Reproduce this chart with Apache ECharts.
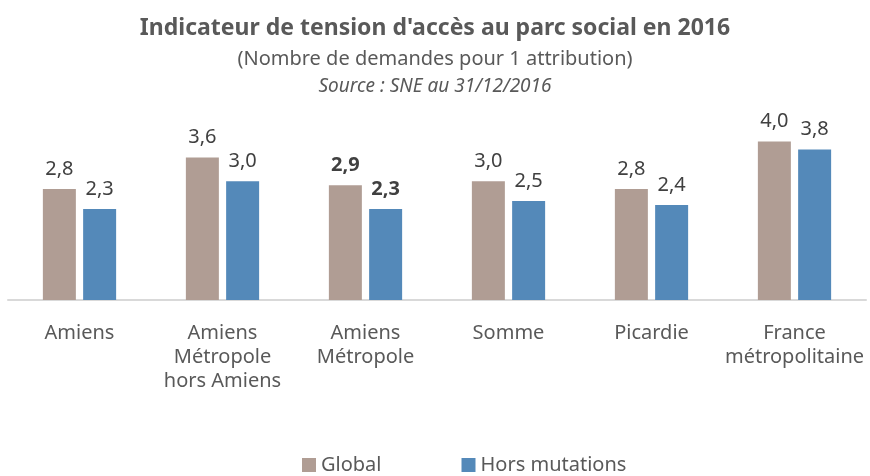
<!DOCTYPE html>
<html>
<head>
<meta charset="utf-8">
<script src="https://cdn.jsdelivr.net/npm/echarts@6/dist/echarts.min.js"></script>
<style>
html,body{margin:0;padding:0;background:#fff;}
#chart{width:870px;height:476px;}
</style>
</head>
<body>
<div id="chart"></div>
<script>
// Territories compared
const categories = [
  'Amiens',
  'Amiens\nMétropole\nhors Amiens',
  'Amiens\nMétropole',
  'Somme',
  'Picardie',
  'France\nmétropolitaine'
];
// Demands per allocation
const globalValues = [2.8, 3.6, 2.9, 3.0, 2.8, 4.0];
const horsMutationValues = [2.3, 3.0, 2.3, 2.5, 2.4, 3.8];
// Category whose labels are emphasised
const highlightIndex = 2;

const FONT = '"Noto Sans", "Open Sans", sans-serif';
const fmt = v => v.toFixed(1).replace('.', ',');

function toData(values) {
  return values.map((v, i) => i === highlightIndex
    ? { value: v, label: { fontWeight: 'bold' } }
    : v);
}

const chart = echarts.init(document.getElementById('chart'));
chart.setOption({
  animation: false,
  title: [
    { text: "Indicateur de tension d'accès au parc social en 2016", left: 'center', top: 12,
      textStyle: { fontFamily: FONT, fontSize: 23, fontWeight: 'bold', color: '#595959' } },
    { text: '(Nombre de demandes pour 1 attribution)', left: 'center', top: 44,
      textStyle: { fontFamily: FONT, fontSize: 20, fontWeight: 'normal', color: '#595959' } },
    { text: 'Source : SNE au 31/12/2016', left: 'center', top: 72,
      textStyle: { fontFamily: FONT, fontSize: 19, fontWeight: 'normal', fontStyle: 'italic', color: '#595959' } }
  ],
  legend: {
    top: 455, left: 302, itemGap: 80, itemWidth: 14, itemHeight: 14,
    padding: 0, icon: 'rect',
    textStyle: { fontFamily: FONT, fontSize: 20, color: '#595959' },
    data: ['Global', 'Hors mutations']
  },
  grid: { left: 8, right: 4, top: 102, height: 198 },
  xAxis: {
    type: 'category', data: categories,
    axisLine: { lineStyle: { color: '#D9D9D9', width: 2 } },
    axisTick: { show: false },
    axisLabel: { fontFamily: FONT, fontSize: 20, color: '#595959', lineHeight: 24, margin: 21, interval: 0 }
  },
  yAxis: { type: 'value', min: 0, max: 5, show: false, splitLine: { show: false } },
  series: [
    { name: 'Global', type: 'bar', data: toData(globalValues), barWidth: 33, barGap: '22%',
      itemStyle: { color: '#B09D94' },
      label: { show: true, position: 'top', distance: 10, formatter: p => fmt(p.value),
        fontFamily: FONT, fontSize: 20, color: '#404040' } },
    { name: 'Hors mutations', type: 'bar', data: toData(horsMutationValues), barWidth: 33,
      itemStyle: { color: '#5489B9' },
      label: { show: true, position: 'top', distance: 10, formatter: p => fmt(p.value),
        fontFamily: FONT, fontSize: 20, color: '#404040' } }
  ]
});
</script>
</body>
</html>
